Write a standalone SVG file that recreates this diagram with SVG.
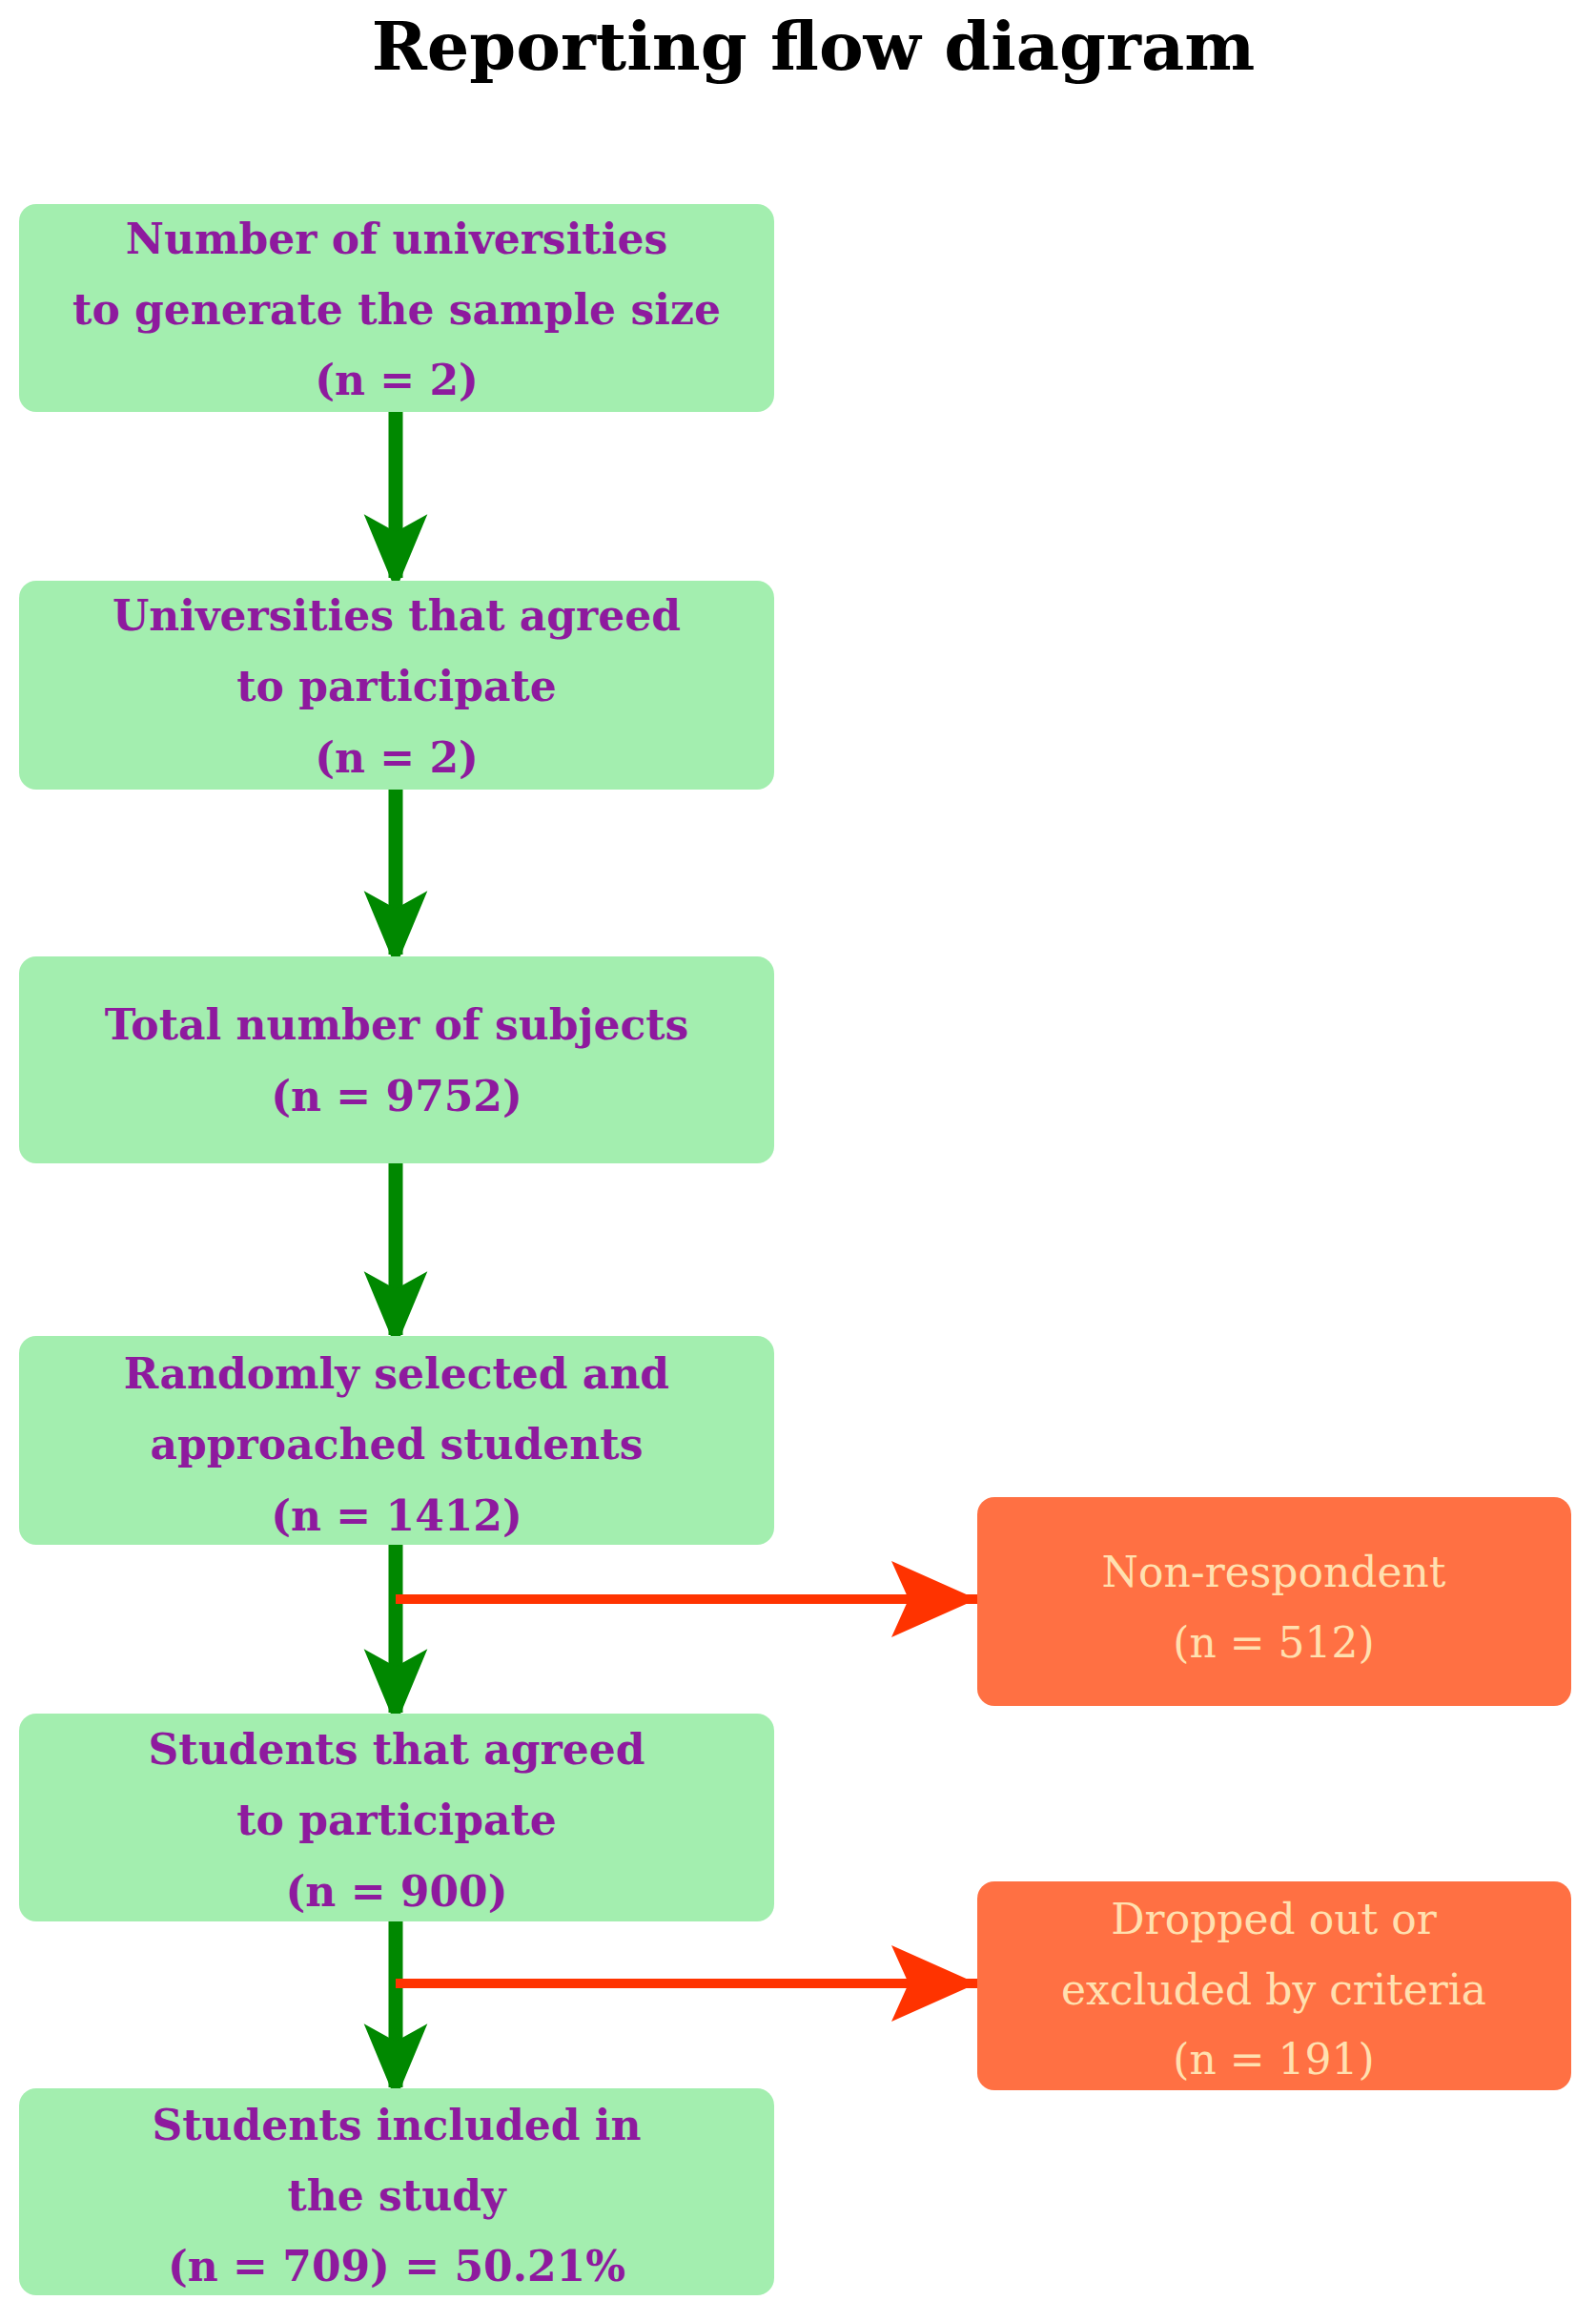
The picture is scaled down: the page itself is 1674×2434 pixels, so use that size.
<svg xmlns="http://www.w3.org/2000/svg" width="1674" height="2434" viewBox="0 0 1674 2434">
<style>
text{font-family:"DejaVu Serif","Liberation Serif",serif;font-weight:bold;text-anchor:middle;dominant-baseline:central}
.g rect{fill:#a3eeaf}
.g text{fill:#8e1a9e;font-size:44px}
.r rect{fill:#ff7043}
.r text{fill:#ffe0b0;font-size:44px;font-weight:normal}
</style>
<defs>
<marker id="ag" markerUnits="userSpaceOnUse" markerWidth="80" markerHeight="96" refX="80" refY="40" orient="auto" viewBox="0 0 96 80"><path d="M0,0L96,40L0,80L22,40Z" fill="#008800"/></marker>
<marker id="ar" markerUnits="userSpaceOnUse" markerWidth="90" markerHeight="90" refX="90" refY="40" orient="auto" viewBox="0 0 90 80"><path d="M0,0L90,40L0,80L18,40Z" fill="#ff3300"/></marker>
</defs>
<rect width="1674" height="2434" fill="#fff"/>
<text x="853" y="48" style="font-size:70px;fill:#000;font-weight:bold">Reporting flow diagram</text>
<g id="connectors">
<g stroke="#008800" stroke-width="15">
<line x1="415" y1="432" x2="415" y2="606" marker-end="url(#ag)"/>
<line x1="415" y1="828" x2="415" y2="1001" marker-end="url(#ag)"/>
<line x1="415" y1="1220" x2="415" y2="1400" marker-end="url(#ag)"/>
<line x1="415" y1="1620" x2="415" y2="1796" marker-end="url(#ag)"/>
<line x1="415" y1="2015" x2="415" y2="2189" marker-end="url(#ag)"/>
</g>
<g stroke="#ff3300" stroke-width="10">
<line x1="415" y1="1677" x2="1025" y2="1677" marker-end="url(#ar)"/>
<line x1="415" y1="2080" x2="1025" y2="2080" marker-end="url(#ar)"/>
</g>
</g>
<g id="n1" class="g"><rect x="20" y="214" width="792" height="218" rx="18"/><text x="416" y="250">Number of universities</text><text x="416" y="324">to generate the sample size</text><text x="416" y="398">(n = 2)</text></g>
<g id="n2" class="g"><rect x="20" y="609" width="792" height="219" rx="18"/><text x="416" y="645">Universities that agreed</text><text x="416" y="719">to participate</text><text x="416" y="794">(n = 2)</text></g>
<g id="n3" class="g"><rect x="20" y="1003" width="792" height="217" rx="18"/><text x="416" y="1074">Total number of subjects</text><text x="416" y="1149">(n = 9752)</text></g>
<g id="n4" class="g"><rect x="20" y="1401" width="792" height="219" rx="18"/><text x="416" y="1440">Randomly selected and</text><text x="416" y="1514">approached students</text><text x="416" y="1589">(n = 1412)</text></g>
<g id="n5" class="g"><rect x="20" y="1797" width="792" height="218" rx="18"/><text x="416" y="1834">Students that agreed</text><text x="416" y="1908">to participate</text><text x="416" y="1983">(n = 900)</text></g>
<g id="n6" class="g"><rect x="20" y="2190" width="792" height="217" rx="18"/><text x="416" y="2228">Students included in</text><text x="416" y="2302">the study</text><text x="416" y="2376">(n = 709) = 50.21%</text></g>
<g id="r1" class="r"><rect x="1025" y="1570" width="623" height="219" rx="18"/><text x="1336" y="1648">Non-respondent</text><text x="1336" y="1722">(n = 512)</text></g>
<g id="r2" class="r"><rect x="1025" y="1973" width="623" height="219" rx="18"/><text x="1336" y="2012">Dropped out or</text><text x="1336" y="2086">excluded by criteria</text><text x="1336" y="2159">(n = 191)</text></g>
</svg>
